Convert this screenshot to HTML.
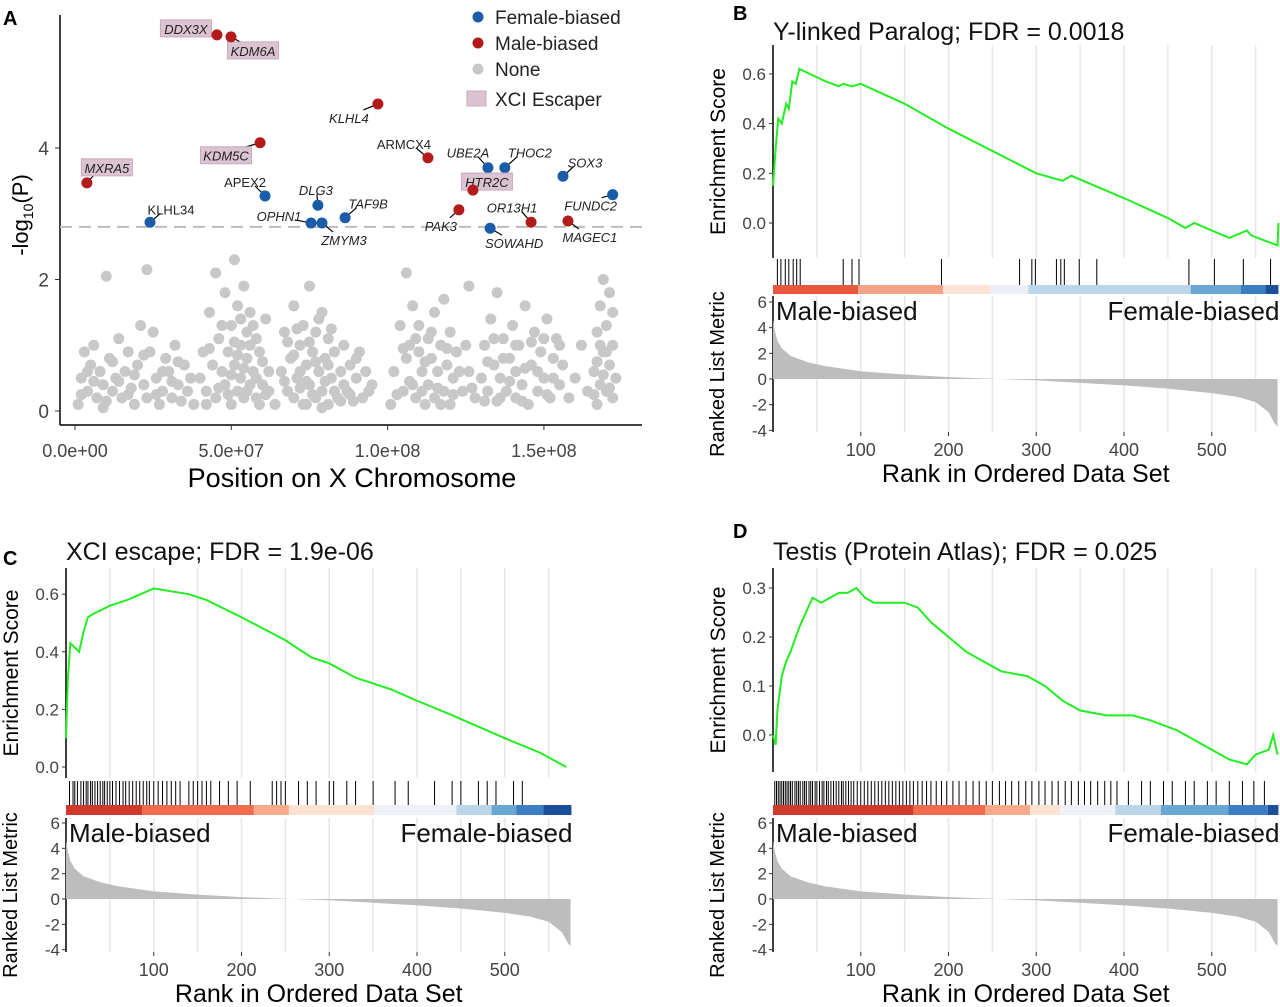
<!DOCTYPE html>
<html><head><meta charset="utf-8"><style>
body{margin:0;background:#fff;}
svg{display:block;font-family:"Liberation Sans",sans-serif;}
</style></head><body>
<svg id="fig" width="1280" height="1007" viewBox="0 0 1280 1007" xmlns="http://www.w3.org/2000/svg"></svg>
<script>
// ---------- Panel A data ----------
const grayPts = [[1,0.1],[2,0.5],[3,0.9],[4,0.3],[5,0.7],[6,1.0],[7,0.2],[8,0.6],[9,0.4],[10,2.05],[10,0.15],[11,0.8],[12,0.3],[13,0.5],[14,1.1],[15,0.2],[16,0.6],[17,0.9],[18,0.35],[19,0.1],[20,0.7],[21,1.3],[22,0.4],[23,2.15],[23,0.2],[24,0.9],[25,1.2],[26,0.5],[27,0.1],[28,0.3],[29,0.8],[30,0.6],[31,0.2],[32,1.0],[33,0.4],[34,0.15],[35,0.7],[36,0.3],[38,0.1],[40,0.5],[41,0.9],[42,0.3],[43,1.5],[44,0.7],[45,2.1],[45,0.2],[46,1.1],[47,0.6],[48,1.8],[48,0.4],[49,0.9],[50,1.3],[50,0.1],[51,2.3],[51,0.7],[52,1.6],[52,0.3],[53,1.0],[53,0.5],[54,1.9],[54,0.2],[55,1.2],[55,0.8],[56,0.4],[56,1.5],[57,0.6],[58,1.1],[58,0.2],[59,0.9],[60,0.4],[61,1.4],[62,0.3],[64,0.1],[66,0.6],[67,1.2],[68,0.3],[69,0.8],[70,1.6],[70,0.2],[71,0.5],[72,1.0],[72,0.35],[73,1.3],[74,0.7],[74,0.1],[75,1.9],[75,0.4],[76,0.9],[77,0.2],[77,1.2],[78,0.6],[79,1.5],[79,0.3],[80,0.8],[81,0.1],[81,1.1],[82,0.5],[83,0.9],[84,0.2],[85,0.6],[86,1.0],[87,0.3],[88,0.7],[89,0.15],[90,0.5],[91,0.9],[92,0.2],[93,0.6],[94,0.3],[95,0.4],[101,0.1],[102,0.6],[104,1.3],[105,0.3],[106,2.1],[106,0.8],[107,1.0],[108,0.4],[108,1.6],[109,0.2],[110,0.9],[110,1.3],[111,0.6],[112,0.1],[113,1.1],[113,0.4],[114,0.8],[115,1.5],[115,0.2],[116,0.6],[117,1.0],[118,0.3],[118,1.7],[119,0.7],[120,0.1],[120,1.2],[121,0.5],[122,0.9],[124,0.3],[126,1.9],[126,0.6],[128,0.2],[130,0.5],[131,1.0],[132,0.3],[133,1.4],[134,0.7],[135,0.15],[135,1.8],[136,0.5],[137,1.1],[138,0.3],[139,0.8],[140,1.3],[141,0.2],[141,0.6],[142,1.0],[143,0.4],[144,1.6],[145,0.1],[146,0.7],[147,1.2],[148,0.3],[149,0.9],[150,0.5],[151,1.4],[152,0.2],[153,0.8],[154,1.1],[155,0.4],[156,0.7],[158,0.2],[160,0.5],[162,1.0],[164,0.3],[166,0.6],[167,1.2],[167,0.1],[168,1.6],[168,0.4],[169,0.9],[169,2.0],[170,0.3],[170,1.3],[171,0.7],[171,1.8],[172,0.2],[172,1.0],[173,0.5],
[2,0.25],[4,0.6],[6,0.45],[9,0.05],[12,0.75],[14,0.45],[17,0.25],[19,0.55],[22,0.85],[26,0.25],[28,0.6],[31,0.45],[33,0.75],[37,0.5],[42,0.1],[43,0.95],[46,0.35],[47,1.3],[49,0.25],[50,0.55],[51,1.05],[52,0.85],[53,1.4],[54,0.65],[55,0.3],[56,1.0],[57,1.3],[58,0.5],[59,0.1],[60,0.75],[61,0.25],[62,0.6],[67,0.45],[68,1.05],[70,0.85],[71,1.25],[72,0.6],[73,0.1],[74,0.45],[75,1.05],[76,0.25],[77,0.75],[78,1.4],[79,0.05],[80,0.45],[81,0.7],[82,1.25],[83,0.3],[85,0.15],[86,0.4],[88,0.25],[90,0.8],[103,0.25],[105,0.95],[107,0.45],[109,1.1],[111,0.3],[112,0.75],[114,1.2],[116,0.35],[117,0.1],[119,0.95],[121,0.25],[123,0.6],[125,1.0],[127,0.35],[131,0.15],[132,0.75],[134,1.1],[136,0.2],[137,0.8],[139,0.45],[141,1.0],[143,0.15],[144,0.65],[146,1.05],[148,0.6],[150,1.1],[151,0.25],[153,0.5],[155,1.0],[166,0.25],[167,0.75],[168,1.0],[169,0.55],[170,0.9],[171,0.35],[172,1.5]];
const geneNames = ["DDX3X","KDM6A","KLHL4","KDM5C","ARMCX4","MXRA5","UBE2A","THOC2","SOX3","APEX2","FUNDC2","HTR2C","DLG3","TAF9B","OPHN1","ZMYM3","KLHL34","PAK3","OR13H1","SOWAHD","MAGEC1"];
const genePos = [45.4,49.9,96.9,59.2,112.9,3.8,132.1,137.5,156.1,60.8,172,127.3,77.7,86.4,75.5,79,24,122.8,145.9,132.8,157.7];
const geneP = [5.72,5.69,4.67,4.08,3.85,3.47,3.70,3.70,3.57,3.27,3.29,3.36,3.13,2.94,2.86,2.86,2.87,3.06,2.87,2.78,2.89];
const geneBias = ["M","M","M","M","M","M","F","F","F","F","F","M","F","F","F","F","F","M","M","F","M"];
const geneEscape = [1,1,0,1,0,1,0,0,0,0,0,1,0,0,0,0,0,0,0,0,0];
const xTicksA = [0,50,100,150];
const xTickLabelsA = ["0.0e+00","5.0e+07","1.0e+08","1.5e+08"];
const yTicksA = [0,2,4];
const thresholdA = 2.8;

// ---------- GSEA data ----------
const esRankB = [0,3,6,10,15,18,22,26,30,60,75,80,90,100,150,200,300,330,340,400,450,470,480,520,540,545,560,575,576];
const esValB = [0.15,0.3,0.42,0.4,0.48,0.46,0.57,0.56,0.62,0.57,0.55,0.56,0.55,0.56,0.48,0.38,0.2,0.17,0.19,0.1,0.02,-0.02,0.0,-0.06,-0.03,-0.05,-0.07,-0.09,0.0];
const hitsB = [5,9,14,18,23,27,31,80,90,98,192,281,295,299,323,328,332,349,369,474,503,536,567];
const esRankC = [0,2,5,15,20,25,30,50,70,85,100,120,140,160,200,250,280,300,330,350,370,400,440,470,500,540,570];
const esValC = [0.1,0.3,0.43,0.4,0.47,0.52,0.53,0.56,0.58,0.6,0.62,0.61,0.6,0.58,0.52,0.44,0.38,0.36,0.31,0.29,0.27,0.23,0.18,0.14,0.1,0.05,0.0];
const hitsC = [4,8,10,13,17,20,23,25,28,30,33,36,39,42,44,47,50,53,57,61,65,68,72,76,80,84,88,92,95,100,105,110,115,120,125,130,140,145,150,155,160,165,175,185,195,210,235,240,245,250,265,275,285,300,305,320,330,350,375,390,420,440,450,470,480,490,510,520];
const esRankD = [0,3,5,10,15,20,30,40,45,55,65,75,85,95,105,115,130,150,165,180,200,220,240,260,290,310,330,350,380,410,430,460,480,500,520,540,550,565,570,575];
const esValD = [0.0,-0.02,0.05,0.12,0.15,0.17,0.22,0.26,0.28,0.27,0.28,0.29,0.29,0.3,0.28,0.27,0.27,0.27,0.26,0.23,0.2,0.17,0.15,0.13,0.12,0.1,0.07,0.05,0.04,0.04,0.03,0.01,-0.01,-0.03,-0.05,-0.06,-0.04,-0.03,0.0,-0.04];
const hitsD = [2,4,6,8,10,12,14,16,18,20,22,25,27,29,31,34,36,38,41,43,45,48,50,53,56,58,61,63,66,69,72,75,78,80,83,86,89,92,96,100,104,108,112,116,120,124,128,132,136,140,144,148,152,156,160,165,170,175,180,186,192,198,205,212,220,228,235,243,250,258,265,272,280,288,295,303,310,318,325,333,340,348,355,362,370,378,385,392,405,420,430,445,455,470,480,495,505,520,535,548,560];
const metricRank = [0,2,5,10,20,40,60,100,150,200,250,300,350,400,450,500,530,550,565,572,575];
const metricVal = [4.6,3.8,3.0,2.4,1.8,1.3,1.0,0.6,0.35,0.15,0.02,-0.1,-0.3,-0.5,-0.75,-1.1,-1.4,-1.8,-2.6,-3.5,-3.7];
const xTicksRank = [100,200,300,400,500];
const metricTicks = [-4,-2,0,2,4,6];

const NS="http://www.w3.org/2000/svg";
const svg=document.getElementById('fig');
function el(tag,attrs,parent,text){const e=document.createElementNS(NS,tag);for(const k in attrs)e.setAttribute(k,attrs[k]);if(text!==undefined)e.textContent=text;(parent||svg).appendChild(e);return e;}

// ---------- Panel A ----------
const gA=el('g',{});


const ax=v=>75+v/50*156.3, ay=v=>411-v*65.75;
const letA=el('text',{x:3,y:25,'font-size':20,'font-weight':'bold'},gA,'A');

el('line',{x1:60,y1:15,x2:60,y2:425,stroke:'#000','stroke-width':1.5},gA);
el('line',{x1:60,y1:425,x2:642,y2:425,stroke:'#000','stroke-width':1.5},gA);
yTicksA.forEach(v=>{el('line',{x1:55,y1:ay(v),x2:60,y2:ay(v),stroke:'#333'},gA);
 const t=el('text',{x:49,y:ay(v)+7,'font-size':19,'text-anchor':'end',fill:'#444'},gA,String(v));
 });
xTicksA.forEach((v,i)=>{el('line',{x1:ax(v),y1:425,x2:ax(v),y2:430,stroke:'#333'},gA);
 const t=el('text',{x:ax(v),y:457,'font-size':18,'text-anchor':'middle',fill:'#444'},gA,xTickLabelsA[i]);
 });
const xt=el('text',{x:352,y:487,'font-size':27,'text-anchor':'middle'},gA,'Position on X Chromosome');

const yt=el('text',{transform:'translate(28,215) rotate(-90)','font-size':22,'text-anchor':'middle'},gA);

el('tspan',{},yt,'-log');el('tspan',{'font-size':14,dy:5},yt,'10');el('tspan',{dy:-5},yt,'(P)');
const th=el('line',{x1:60,y1:ay(thresholdA),x2:642,y2:ay(thresholdA),stroke:'#bbb','stroke-width':2,'stroke-dasharray':'12,7'},gA);

grayPts.forEach(p=>{const c=el('circle',{cx:ax(p[0]),cy:ay(p[1]),r:5.5,fill:'#c8c8c8'},gA);
 });
const lab={DDX3X:[-31,-6,1],KDM6A:[22,14,1],KLHL4:[-29,14,0],KDM5C:[-34,13,1],ARMCX4:[-24,-14,0],MXRA5:[20,-15,1],UBE2A:[-20,-15,0],THOC2:[25,-15,0],SOX3:[22,-14,0],APEX2:[-20,-14,0],FUNDC2:[-22,11,0],HTR2C:[14,-8,1],DLG3:[-2,-15,0],TAF9B:[23,-14,0],OPHN1:[-32,-7,0],ZMYM3:[22,17,0],KLHL34:[21,-13,0],PAK3:[-18,16,0],OR13H1:[-19,-15,0],SOWAHD:[24,15,0],MAGEC1:[22,16,0]};
const upright={ARMCX4:1,APEX2:1,KLHL34:1};
geneNames.forEach((g,i)=>{const px=ax(genePos[i]),py=ay(geneP[i]);const o=lab[g];
 const tx=px+o[0],ty=py+o[1];
 el('line',{x1:px,y1:py,x2:tx+(o[0]>0?-o[0]*0.5:-o[0]*0.5),y2:ty-(o[1]>0?8:-4),stroke:'#000','stroke-width':1.2},gA);
 if(geneEscape[i]){const w=g.length*9+6;const r=el('rect',{x:tx-w/2,y:ty-9,width:w,height:17,fill:'#dcc3d2',stroke:'#c9a9bb'},gA);
  }
 const t=el('text',{x:tx,y:ty+5,'font-size':13,'text-anchor':'middle','font-style':upright[g]?'normal':'italic',fill:'#222'},gA,g);
 
 const c=el('circle',{cx:px,cy:py,r:5.5,fill:geneBias[i]==='M'?'#b31b1b':'#1a5ca8'},gA);
 });
const legItems=[['#1a5ca8','Female-biased'],['#b31b1b','Male-biased'],['#c8c8c8','None']];
legItems.forEach((it,i)=>{const c=el('circle',{cx:478,cy:17+i*26,r:5.5,fill:it[0]},gA);
 
 const t=el('text',{x:495,y:24+i*26,'font-size':19,fill:'#222'},gA,it[1]);
 });
const lr=el('rect',{x:467,y:91,width:19,height:15,fill:'#dcc3d2',stroke:'#c9a9bb'},gA);

const lt=el('text',{x:495,y:106,'font-size':19,fill:'#222'},gA,'XCI Escaper');


// ---------- GSEA panels ----------
function gsea(cfg){
 const g=el('g',{});
 
 
 const rx=r=>cfg.x0+r*0.8775;
 const ey=v=>cfg.esZero-v*cfg.esScale;
 const my=v=>cfg.mZero-v*cfg.mScale;
 const xEnd=rx(576);
 const L=el('text',{x:cfg.letX,y:cfg.letY,'font-size':20,'font-weight':'bold'},g,cfg.letter);
 
 for(let r=50;r<=550;r+=50){
  el('line',{x1:rx(r),y1:cfg.esTop,x2:rx(r),y2:cfg.esBot,stroke:'#e6e6e6','stroke-width':1.5},g);
  el('line',{x1:rx(r),y1:cfg.mTop,x2:rx(r),y2:cfg.mBot,stroke:'#e6e6e6','stroke-width':1.5},g);
 }
 el('line',{x1:cfg.x0,y1:cfg.esTop,x2:cfg.x0,y2:cfg.esBot,stroke:'#000','stroke-width':1.5},g);
 cfg.esTicks.forEach(v=>{el('line',{x1:cfg.x0-4,y1:ey(v),x2:cfg.x0,y2:ey(v),stroke:'#333'},g);
  const t=el('text',{x:cfg.x0-7,y:ey(v)+6,'font-size':17,'text-anchor':'end',fill:'#444'},g,v.toFixed(1));
  });
 const ttl=el('text',{x:cfg.x0,y:cfg.titleY,'font-size':25,fill:'#111'},g,cfg.title);
 
 const yl=el('text',{transform:`translate(${cfg.x0-48},${(cfg.esTop+cfg.esBot)/2}) rotate(-90)`,'font-size':21,'text-anchor':'middle'},g,'Enrichment Score');
 
 const pts=cfg.esRank.map((r,i)=>rx(r)+','+ey(cfg.esVal[i])).join(' ');
 const pl=el('polyline',{points:pts,fill:'none',stroke:'#22ee22','stroke-width':2},g);
 
 cfg.hits.forEach(r=>{const h=el('line',{x1:rx(r),y1:cfg.hitTop,x2:rx(r),y2:cfg.stripTop,stroke:'#000','stroke-width':1},g);
  });
 cfg.strip.forEach(s=>{const r=el('rect',{x:rx(s[0]),y:cfg.stripTop,width:rx(s[1])-rx(s[0]),height:cfg.stripH,fill:s[2]},g);
  });
 el('line',{x1:cfg.x0,y1:cfg.mTop,x2:cfg.x0,y2:cfg.mBot,stroke:'#000','stroke-width':1.5},g);
 metricTicks.forEach(v=>{el('line',{x1:cfg.x0-4,y1:my(v),x2:cfg.x0,y2:my(v),stroke:'#333'},g);
  const t=el('text',{x:cfg.x0-6,y:my(v)+6,'font-size':17,'text-anchor':'end',fill:'#444'},g,String(v));
  });
 let ap=`M${rx(0)},${my(0)} `+metricRank.map((r,i)=>`L${rx(r)},${my(metricVal[i])}`).join(' ')+` L${rx(575)},${my(0)} Z`;
 const area=el('path',{d:ap,fill:'#bdbdbd'},g);
 
 const m1=el('text',{x:cfg.x0+3,y:cfg.mTop+24,'font-size':26,fill:'#111'},g,'Male-biased');
 
 const f1=el('text',{x:xEnd+1,y:cfg.mTop+24,'font-size':26,'text-anchor':'end',fill:'#111'},g,'Female-biased');
 
 const ml=el('text',{transform:`translate(${cfg.x0-49},${(cfg.mTop+cfg.mBot)/2+10}) rotate(-90)`,'font-size':20,'text-anchor':'middle'},g,'Ranked List Metric');
 
 xTicksRank.forEach(r=>{el('line',{x1:rx(r),y1:cfg.mBot,x2:rx(r),y2:cfg.mBot+4,stroke:'#333'},g);
  const t=el('text',{x:rx(r),y:cfg.mBot+24,'font-size':18,'text-anchor':'middle',fill:'#444'},g,String(r));
  });
 const xl=el('text',{x:(cfg.x0+xEnd)/2,y:cfg.mBot+50,'font-size':25,'text-anchor':'middle'},g,'Rank in Ordered Data Set');
 
}
gsea({name:'panel-b',letter:'B',letX:733,letY:20,x0:773,esZero:223,esScale:248.5,esTop:45,esBot:258,esTicks:[0,0.2,0.4,0.6],
 titleY:40,title:'Y-linked Paralog; FDR = 0.0018',esRank:esRankB,esVal:esValB,hits:hitsB,hitTop:259,stripTop:285,stripH:9,
 strip:[[0,97,'#e8583f'],[97,194,'#f4a386'],[194,248,'#fce3d7'],[248,291,'#eef0f8'],[291,476,'#bcd5e8'],[476,533,'#6aa6d4'],[533,561,'#3b7fc0'],[561,576,'#1b4f99']],
 mZero:379,mScale:12.83,mTop:296,mBot:432});
gsea({name:'panel-c',letter:'C',letX:3,letY:565,x0:66,esZero:767,esScale:288,esTop:568,esBot:778,esTicks:[0,0.2,0.4,0.6],
 titleY:560,title:'XCI escape; FDR = 1.9e-06',esRank:esRankC,esVal:esValC,hits:hitsC,hitTop:781,stripTop:805,stripH:10,
 strip:[[0,87,'#d03a2c'],[87,214,'#ee6b4e'],[214,254,'#f6a98b'],[254,351,'#fde1d3'],[351,445,'#eff1f8'],[445,485,'#bcd5e8'],[485,513,'#6aa6d4'],[513,544,'#3b7fc0'],[544,576,'#1b4f99']],
 mZero:899,mScale:12.67,mTop:818,mBot:952});
gsea({name:'panel-d',letter:'D',letX:733,letY:538,x0:773,esZero:735,esScale:490,esTop:568,esBot:772,esTicks:[0,0.1,0.2,0.3],
 titleY:560,title:'Testis (Protein Atlas); FDR = 0.025',esRank:esRankD,esVal:esValD,hits:hitsD,hitTop:781,stripTop:805,stripH:10,
 strip:[[0,160,'#d03a2c'],[160,242,'#ee6b4e'],[242,293,'#f6a98b'],[293,327,'#fde1d3'],[327,390,'#eff1f8'],[390,442,'#bcd5e8'],[442,519,'#6aa6d4'],[519,564,'#3b7fc0'],[564,576,'#1b4f99']],
 mZero:899,mScale:12.67,mTop:818,mBot:952});
</script>
</body></html>
